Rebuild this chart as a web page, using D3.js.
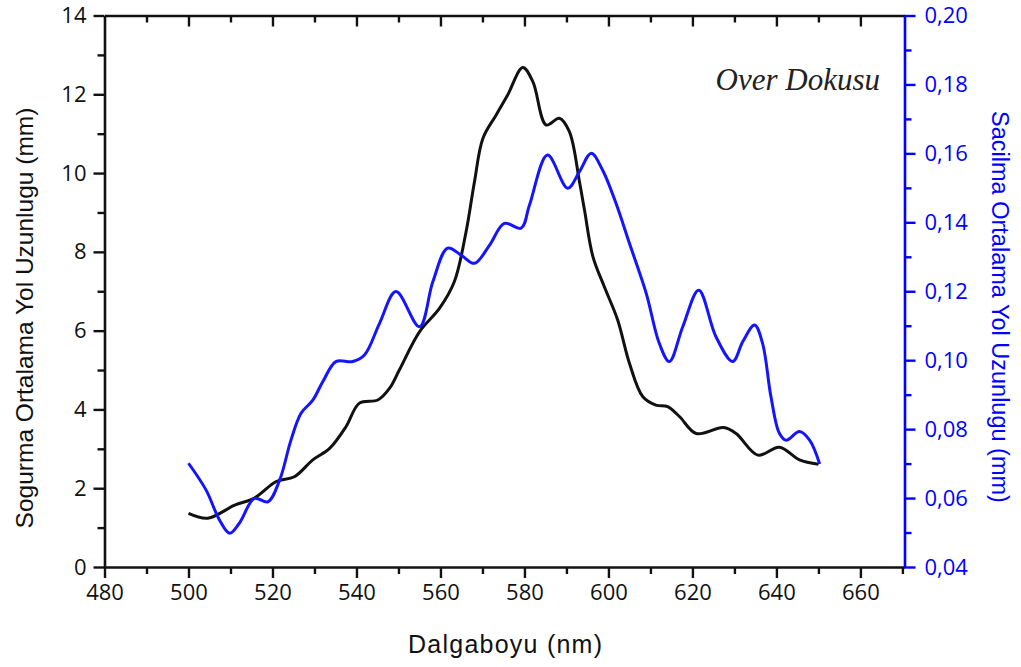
<!DOCTYPE html>
<html>
<head>
<meta charset="utf-8">
<script src="https://cdn.jsdelivr.net/npm/d3@7"></script>
<style>
  html, body { margin: 0; padding: 0; background: #fff; }
  svg { display: block; }
</style>
</head>
<body>
<svg id="chart" width="1021" height="667"></svg>
<script>
// Absorption mean path length (left axis, mm)
const absWavelength = [500, 504.6, 511, 515.7, 520.9, 525.2, 529.6, 533.6, 537.5, 540.7, 545.1, 547.9,
  550.2, 555, 559.8, 563.3, 566.1, 568.1, 570.1, 573.3, 576, 579.6, 582, 585.2, 588.3, 590.7, 593.1,
  594.3, 596.3, 599, 602.2, 605, 608.2, 611.3, 614.1, 616.9, 620.9, 627.4, 630.4, 635.6, 640.7, 645.5, 650];
const absValues = [1.36, 1.24, 1.57, 1.75, 2.17, 2.29, 2.72, 3.01, 3.56, 4.16, 4.24, 4.54,
  5.0, 5.97, 6.57, 7.24, 8.51, 9.78, 10.88, 11.48, 11.98, 12.68, 12.32, 11.22, 11.39, 11.05, 9.78,
  9.06, 7.88, 7.12, 6.27, 5.17, 4.32, 4.11, 4.07, 3.82, 3.39, 3.54, 3.39, 2.84, 3.04, 2.72, 2.61];

// Scattering mean path length (right axis, mm)
const scatWavelength = [500, 504.2, 507.4, 509.8, 512.1, 515.7, 518.9, 521.7, 524.4, 526.8, 529.6, 532,
  535.1, 539.1, 541.9, 545.5, 549.4, 555, 558.2, 561.7, 564.9, 568.1, 571.7, 575.2, 579.2, 581.2,
  585.5, 590.3, 593.1, 595.9, 598.6, 601.8, 605, 609, 612.1, 614.5, 617.7, 621.5, 625.6, 629.6, 632,
  634.8, 636.7, 638.7, 640.7, 642.3, 645.5, 647.9, 650.3];
const scatValues = [0.0701, 0.0623, 0.0536, 0.0498, 0.0527, 0.0599, 0.0589, 0.0652, 0.0768, 0.0846, 0.0884, 0.0938,
  0.0996, 0.0996, 0.1015, 0.1107, 0.1199, 0.1097, 0.1228, 0.1325, 0.1305, 0.1281, 0.1334, 0.1397, 0.1383, 0.1450,
  0.1595, 0.1499, 0.1547, 0.1600, 0.1552, 0.1455, 0.1339, 0.1194, 0.1049, 0.0996, 0.1097, 0.1203, 0.1068, 0.0996, 0.1054,
  0.1102, 0.1049, 0.0894, 0.0788, 0.0768, 0.0793, 0.0768, 0.0699];

// Tick values
const xTicks = [480, 500, 520, 540, 560, 580, 600, 620, 640, 660];
const xMinorTicks = [490, 510, 530, 550, 570, 590, 610, 630, 650, 670];
const yLeftTicks = [0, 2, 4, 6, 8, 10, 12, 14];
const yLeftMinorTicks = [1, 3, 5, 7, 9, 11, 13];
const yRightTicks = [0.04, 0.06, 0.08, 0.10, 0.12, 0.14, 0.16, 0.18, 0.20];
const yRightMinorTicks = [0.05, 0.07, 0.09, 0.11, 0.13, 0.15, 0.17, 0.19];

const BLACK = "#111";
const BLUE = "#0000ff";
const LINE_BLUE = "#1414ff";

const plot = { left: 104.5, right: 904.5, top: 15.5, bottom: 567 };

const svg = d3.select("#chart");

const x = d3.scaleLinear().domain([480, 670.5]).range([plot.left, plot.right]);
const yL = d3.scaleLinear().domain([0, 14]).range([plot.bottom, plot.top]);
const yR = d3.scaleLinear().domain([0.04, 0.20]).range([plot.bottom, plot.top]);

const numFont = "'Open Sans', 'Noto Sans', sans-serif";
const labelFont = "'Liberation Sans', Arial, sans-serif";
const fmtComma = v => d3.format(".2f")(v).replace(".", ",");
const NUM_SIZE = 22;

function styleAxis(g, color, fontSize) {
  g.select(".domain").attr("stroke", color).attr("stroke-width", 2.6);
  g.selectAll(".tick line").attr("stroke", color).attr("stroke-width", 2.4);
  g.selectAll(".tick text").attr("fill", color)
    .style("font-family", numFont).style("font-size", fontSize + "px");
}

// Bottom axis with minor ticks
const gBottomMinor = svg.append("g").attr("transform", `translate(0,${plot.bottom})`)
  .call(d3.axisBottom(x).tickValues(xMinorTicks).tickSize(7).tickFormat(""));
styleAxis(gBottomMinor, BLACK, NUM_SIZE);
gBottomMinor.select(".domain").remove();
const gBottom = svg.append("g").attr("transform", `translate(0,${plot.bottom})`)
  .call(d3.axisBottom(x).tickValues(xTicks).tickSize(11).tickSizeOuter(0).tickPadding(6).tickFormat(d3.format("d")));
styleAxis(gBottom, BLACK, NUM_SIZE);

// Top axis, ticks pointing inward
const gTopMinor = svg.append("g").attr("transform", `translate(0,${plot.top})`)
  .call(d3.axisTop(x).tickValues(xMinorTicks.filter(v => v < 670)).tickSize(-7).tickFormat(""));
styleAxis(gTopMinor, BLACK, NUM_SIZE);
gTopMinor.select(".domain").remove();
const gTop = svg.append("g").attr("transform", `translate(0,${plot.top})`)
  .call(d3.axisTop(x).tickValues(xTicks.filter(v => v > 480)).tickSize(-11).tickSizeOuter(0).tickFormat(""));
styleAxis(gTop, BLACK, NUM_SIZE);

// Left axis
const gLeftMinor = svg.append("g").attr("transform", `translate(${plot.left},0)`)
  .call(d3.axisLeft(yL).tickValues(yLeftMinorTicks).tickSize(7).tickFormat(""));
styleAxis(gLeftMinor, BLACK, NUM_SIZE);
gLeftMinor.select(".domain").remove();
const gLeft = svg.append("g").attr("transform", `translate(${plot.left},0)`)
  .call(d3.axisLeft(yL).tickValues(yLeftTicks).tickSize(11).tickSizeOuter(0).tickPadding(7).tickFormat(d3.format("d")));
styleAxis(gLeft, BLACK, NUM_SIZE);

// Right axis (blue)
const gRightMinor = svg.append("g").attr("transform", `translate(${plot.right},0)`)
  .call(d3.axisRight(yR).tickValues(yRightMinorTicks).tickSize(7).tickFormat(""));
styleAxis(gRightMinor, BLUE, NUM_SIZE);
gRightMinor.select(".domain").remove();
const gRight = svg.append("g").attr("transform", `translate(${plot.right},0)`)
  .call(d3.axisRight(yR).tickValues(yRightTicks).tickSize(11).tickSizeOuter(0).tickPadding(9).tickFormat(fmtComma));
styleAxis(gRight, BLUE, NUM_SIZE);

// Curves
const absLine = d3.line()
  .x((d, i) => x(absWavelength[i]))
  .y(d => yL(d))
  .curve(d3.curveCatmullRom.alpha(0.5));
const scatLine = d3.line()
  .x((d, i) => x(scatWavelength[i]))
  .y(d => yR(d))
  .curve(d3.curveCatmullRom.alpha(0.5));

svg.append("path").datum(absValues)
  .attr("d", absLine).attr("fill", "none")
  .attr("stroke", BLACK).attr("stroke-width", 3).attr("stroke-linejoin", "round");
svg.append("path").datum(scatValues)
  .attr("d", scatLine).attr("fill", "none")
  .attr("stroke", LINE_BLUE).attr("stroke-width", 3).attr("stroke-linejoin", "round");

// Axis titles
svg.append("text")
  .attr("transform", "translate(33,318) rotate(-90)")
  .attr("text-anchor", "middle")
  .style("font-family", labelFont).style("font-size", "24.5px").attr("fill", BLACK)
  .text("Sogurma Ortalama Yol Uzunlugu (mm)");

svg.append("text")
  .attr("transform", "translate(992,307) rotate(90)")
  .attr("text-anchor", "middle")
  .style("font-family", labelFont).style("font-size", "23.5px").attr("fill", BLUE)
  .text("Sacilma Ortalama Yol Uzunlugu (mm)");

svg.append("text")
  .attr("x", 505).attr("y", 653)
  .attr("text-anchor", "middle")
  .attr("textLength", 194).attr("lengthAdjust", "spacing")
  .style("font-family", labelFont).style("font-size", "25px").attr("fill", BLACK)
  .text("Dalgaboyu (nm)");

// Tissue name
svg.append("text")
  .attr("x", 880).attr("y", 90)
  .attr("text-anchor", "end")
  .style("font-family", "'Liberation Serif', 'Times New Roman', serif")
  .style("font-style", "italic").style("font-size", "31px").attr("fill", "#222")
  .text("Over Dokusu");
</script>
</body>
</html>
